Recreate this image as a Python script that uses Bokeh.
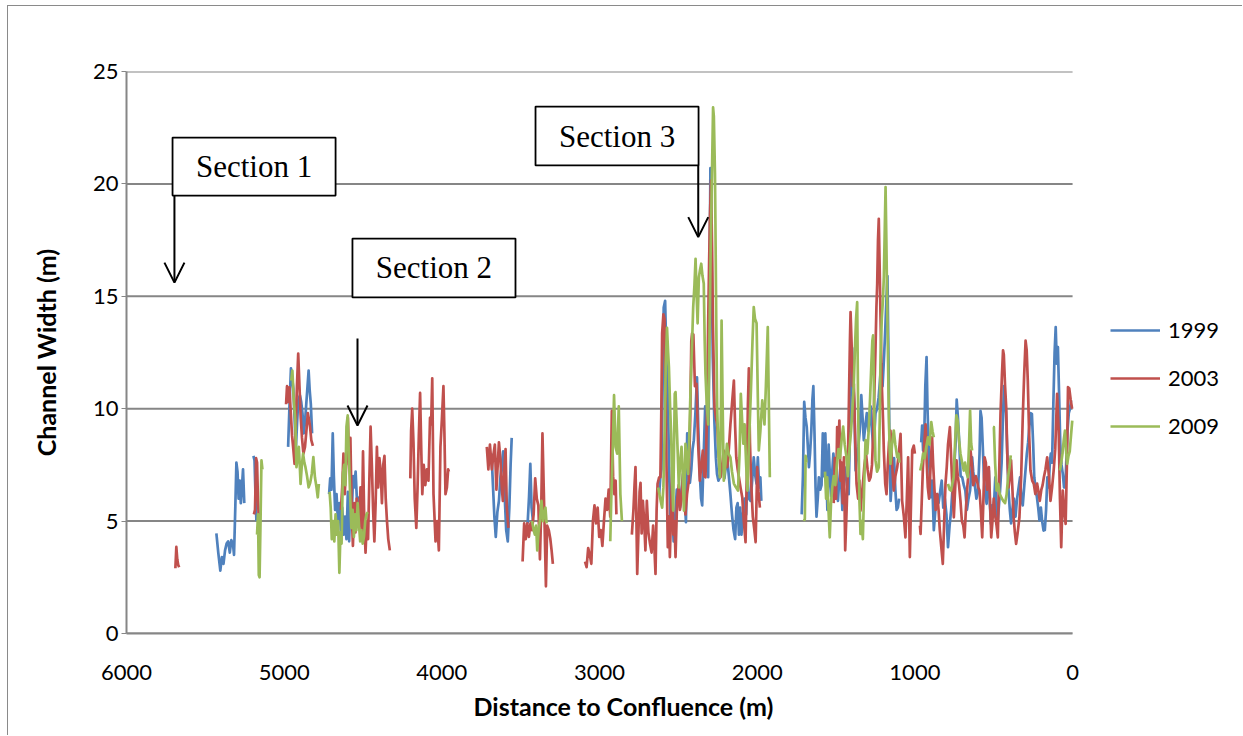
import math

from bokeh.embed import file_html
from bokeh.models import (Arrow, BoxAnnotation, FixedTicker, Label, Legend,
                          LegendItem, OpenHead, Range1d, Title)
from bokeh.plotting import figure
from bokeh.resources import INLINE

# Channel width (m) against distance to the confluence (m); each inner list
# is one surveyed run, gaps between runs are left unconnected.
runs_1999 = [
    [(5430, 4.45), (5418, 3.6), (5405, 2.8), (5395, 3.4), (5385, 3.1), (5375, 3.7), (5365, 4.0),
     (5355, 4.1), (5345, 3.6), (5335, 4.15), (5325, 4.0), (5318, 3.5), (5310, 5.6), (5303, 7.6),
     (5296, 7.2), (5289, 6.0), (5282, 6.8), (5275, 5.8), (5268, 6.5), (5261, 7.3), (5253, 5.8)],
    [(5195, 7.9), (5188, 7.7), (5182, 6.2), (5176, 5.0)],
    [(4975, 8.3), (4966, 10.2), (4957, 11.8), (4950, 11.4), (4942, 10.9), (4934, 9.6), (4926, 8.2),
     (4918, 9.4), (4910, 10.4), (4900, 10.6), (4892, 10.3), (4884, 9.8), (4876, 8.9), (4868, 9.4),
     (4860, 10.2), (4852, 11.0), (4845, 11.7), (4838, 10.8), (4831, 10.2), (4823, 8.9)],
    [(4715, 6.2), (4708, 6.9), (4700, 6.4), (4692, 8.9), (4685, 7.0), (4677, 5.5), (4668, 6.2),
     (4659, 5.0), (4650, 5.8), (4641, 4.6), (4632, 5.6), (4623, 4.4), (4614, 5.2), (4605, 4.2),
     (4596, 6.3), (4588, 4.1), (4580, 6.0), (4572, 5.2), (4563, 7.0), (4555, 6.5), (4547, 7.2),
     (4539, 6.0), (4531, 5.3), (4522, 6.1)],
    [(3685, 8.0), (3676, 6.6), (3667, 5.2), (3658, 4.3), (3648, 5.4), (3638, 5.9), (3628, 7.0),
     (3618, 7.6), (3611, 8.1), (3602, 6.2), (3592, 4.6), (3582, 4.1), (3572, 5.6), (3564, 7.5),
     (3557, 8.7)],
    [(3456, 4.9), (3447, 6.1), (3439, 7.55), (3431, 5.6), (3422, 5.0)],
    [(2622, 6.2), (2614, 7.0), (2607, 7.3), (2600, 11.0), (2593, 14.5), (2584, 14.8), (2575, 12.0),
     (2567, 10.8), (2558, 7.0), (2550, 4.9), (2540, 5.6), (2530, 4.1), (2520, 5.2), (2510, 6.4),
     (2500, 5.9), (2490, 5.6), (2480, 6.4), (2470, 7.1), (2460, 6.0), (2452, 4.95), (2444, 8.9),
     (2436, 7.5), (2427, 6.7), (2418, 7.3), (2410, 8.2), (2402, 8.6), (2392, 9.8), (2382, 11.4),
     (2373, 9.0), (2364, 7.1), (2356, 6.0), (2349, 5.7), (2340, 7.8), (2330, 10.1), (2320, 8.2),
     (2311, 6.95), (2303, 14.0), (2297, 20.7), (2290, 17.5), (2282, 12.3), (2272, 9.5), (2262, 7.8),
     (2255, 7.1), (2246, 6.8), (2237, 6.95), (2228, 7.4), (2218, 7.55), (2208, 6.9), (2198, 7.5),
     (2190, 7.8), (2180, 7.0), (2170, 6.2), (2160, 5.3), (2150, 4.6), (2140, 4.2), (2132, 5.6),
     (2124, 5.8), (2116, 4.4), (2108, 5.6), (2100, 4.4), (2090, 5.3), (2080, 6.0), (2070, 5.3),
     (2062, 6.95), (2052, 6.0), (2042, 5.9), (2032, 6.8), (2022, 7.84), (2012, 7.0), (2004, 6.66),
     (1996, 7.84), (1988, 6.5), (1980, 6.95), (1974, 5.9)],
    [(1718, 5.3), (1710, 7.0), (1702, 10.3), (1694, 9.6), (1686, 9.2), (1678, 8.2), (1672, 7.4),
     (1665, 8.0), (1657, 9.0), (1650, 10.4), (1644, 11.0), (1637, 9.0), (1630, 6.5), (1624, 5.2),
     (1616, 6.0), (1609, 6.95), (1600, 6.4), (1592, 6.6), (1584, 8.9), (1576, 7.0), (1568, 8.9),
     (1560, 6.8), (1555, 5.5), (1547, 8.4), (1539, 7.0), (1531, 6.1), (1524, 7.2), (1517, 8.0),
     (1510, 7.4), (1503, 7.1), (1496, 6.3), (1488, 5.9), (1480, 6.8), (1472, 7.4), (1465, 6.3),
     (1460, 5.5), (1453, 6.8), (1446, 7.4), (1438, 7.0), (1430, 6.6), (1420, 6.2), (1412, 9.0),
     (1405, 11.5), (1398, 12.7), (1390, 11.0), (1384, 10.2), (1376, 7.25), (1368, 7.8), (1359, 8.3),
     (1350, 9.0), (1340, 10.6), (1331, 9.5), (1324, 8.6), (1315, 9.2), (1305, 9.8), (1295, 9.0),
     (1287, 9.6), (1280, 10.1), (1272, 9.0), (1264, 8.3), (1256, 9.0), (1250, 9.8), (1240, 10.0),
     (1230, 10.5), (1222, 11.2), (1214, 12.0), (1205, 11.0), (1195, 12.4), (1188, 13.5), (1181, 14.8),
     (1174, 15.9), (1167, 12.0), (1160, 7.8), (1154, 5.9), (1146, 6.8), (1138, 7.5), (1132, 7.8),
     (1124, 6.4), (1116, 5.5), (1108, 5.6), (1100, 6.0)],
    [(960, 8.5), (954, 9.25), (948, 8.14), (940, 9.0), (934, 11.0), (926, 12.3), (920, 10.0),
     (912, 8.14), (906, 7.0), (900, 6.06), (890, 6.8), (880, 4.6), (870, 5.5), (860, 6.2), (850, 5.8),
     (840, 6.3), (830, 6.8), (820, 5.6), (810, 6.0), (800, 5.3), (790, 3.84), (780, 4.8), (770, 5.5),
     (760, 6.6), (750, 7.5), (742, 8.44), (735, 10.4), (727, 9.6), (718, 8.4), (710, 7.0), (700, 6.95),
     (690, 6.6), (680, 6.36), (670, 5.5), (660, 6.0), (650, 6.36), (642, 7.2), (637, 7.84), (630, 7.2),
     (620, 6.6), (610, 6.0), (600, 6.3), (590, 8.0), (584, 9.9), (577, 9.6), (570, 8.4), (562, 6.95),
     (554, 6.2), (545, 5.77), (538, 6.6), (531, 7.25), (524, 5.7), (518, 4.88), (510, 5.7), (500, 5.5),
     (490, 6.95), (482, 5.6), (475, 4.9), (468, 5.6), (460, 6.36), (450, 7.6), (442, 9.5), (435, 11.0),
     (428, 10.4), (422, 9.8), (414, 8.0), (406, 6.36), (398, 5.5), (390, 4.9), (382, 5.5), (372, 6.0),
     (362, 5.2), (352, 6.0), (342, 6.5), (333, 6.95), (325, 6.0), (316, 5.7), (306, 6.6), (298, 7.3),
     (290, 8.0), (282, 8.5), (274, 9.2), (266, 9.8), (258, 9.77), (250, 8.44), (243, 6.95), (235, 6.5),
     (226, 6.06), (218, 5.6), (210, 5.03), (201, 5.6), (193, 5.0), (184, 4.58), (176, 4.6), (168, 5.5),
     (160, 6.95), (152, 6.5), (144, 7.6), (138, 8.0), (130, 7.6), (122, 10.2), (114, 12.5), (107, 13.63),
     (100, 12.0), (93, 12.74), (86, 10.8), (78, 8.44), (70, 7.5), (62, 7.1), (54, 6.5), (46, 6.5),
     (38, 8.0), (32, 9.03), (24, 9.8), (16, 10.0), (10, 10.37)],
]

runs_2003 = [
    [(5690, 2.9), (5684, 3.85), (5678, 3.3), (5672, 3.05), (5666, 2.95)],
    [(5192, 5.3), (5185, 5.5), (5178, 7.8), (5172, 7.6), (5166, 5.9), (5160, 5.0)],
    [(4988, 10.2), (4982, 11.0), (4975, 10.3), (4967, 10.95), (4958, 9.8), (4950, 8.8), (4942, 8.2),
     (4934, 7.55), (4926, 9.5), (4918, 11.2), (4911, 12.45), (4903, 11.0), (4895, 9.6), (4887, 8.7),
     (4878, 8.0), (4868, 8.3), (4858, 9.1), (4850, 9.8), (4842, 9.5), (4836, 9.2), (4828, 8.6),
     (4818, 8.35)],
    [(4640, 5.5), (4632, 6.5), (4624, 8.0), (4616, 6.2), (4606, 7.6), (4596, 9.6), (4588, 7.5),
     (4580, 8.7), (4572, 5.5), (4564, 3.9), (4556, 5.8), (4548, 4.5), (4540, 6.0), (4532, 5.2),
     (4524, 4.8), (4516, 6.5), (4508, 4.2), (4500, 8.1), (4492, 5.0), (4484, 3.6), (4476, 5.0),
     (4468, 4.2), (4460, 6.8), (4452, 9.2), (4444, 7.5), (4436, 5.5), (4428, 4.1), (4420, 5.8),
     (4412, 8.3), (4404, 6.5), (4396, 7.8), (4388, 7.2), (4380, 5.8), (4372, 7.5), (4364, 7.9),
     (4356, 6.0), (4348, 5.0), (4340, 4.2), (4330, 3.7)],
    [(4200, 6.9), (4195, 9.0), (4188, 10.0), (4180, 8.5), (4172, 6.0), (4162, 4.7), (4154, 6.5),
     (4146, 8.8), (4138, 10.7), (4130, 8.0), (4124, 6.2), (4115, 7.5), (4105, 6.6), (4095, 7.3),
     (4085, 6.8), (4075, 9.6), (4068, 9.3), (4061, 11.35), (4053, 6.2), (4040, 4.1), (4030, 5.0),
     (4019, 3.7), (4009, 8.3), (4000, 9.5), (3990, 11.0), (3984, 9.0), (3977, 6.2), (3968, 6.5),
     (3960, 7.3), (3955, 7.2)],
    [(3715, 8.3), (3705, 7.3), (3695, 8.4), (3683, 7.3), (3672, 8.0), (3664, 8.4), (3654, 6.4),
     (3645, 7.6), (3638, 8.5), (3628, 7.7), (3620, 6.5), (3613, 5.9), (3604, 7.3), (3596, 8.2),
     (3588, 5.6), (3578, 4.7)],
    [(3488, 3.2), (3478, 4.9), (3468, 4.2), (3458, 4.9), (3448, 4.3), (3438, 4.9), (3428, 4.6),
     (3418, 5.3), (3408, 6.9), (3398, 6.0), (3388, 5.7), (3378, 3.3), (3370, 5.5), (3362, 8.9),
     (3354, 6.5), (3348, 4.7), (3340, 2.1), (3332, 4.8), (3322, 4.6), (3312, 4.2), (3304, 3.7),
     (3296, 3.1)],
    [(3092, 3.2), (3082, 2.95), (3072, 3.8), (3062, 3.5), (3052, 3.1), (3042, 5.0), (3032, 5.7),
     (3022, 4.9), (3012, 5.6), (3002, 4.3), (2992, 4.6), (2982, 3.9), (2972, 5.0), (2962, 6.0),
     (2952, 5.5), (2942, 6.4), (2932, 5.2), (2922, 9.9), (2914, 7.0), (2906, 6.2), (2898, 6.8),
     (2893, 5.3)],
    [(2795, 4.4), (2785, 5.5), (2778, 6.6), (2772, 7.4), (2766, 5.0), (2761, 2.65), (2752, 4.8),
     (2746, 6.3), (2740, 6.7), (2733, 4.45), (2725, 5.9), (2717, 5.0), (2709, 3.7), (2700, 5.9),
     (2690, 4.5), (2680, 4.0), (2670, 3.6), (2660, 4.8), (2652, 3.8), (2645, 2.65), (2638, 5.5),
     (2632, 6.66), (2622, 6.95), (2614, 6.95), (2608, 10.0), (2603, 13.35), (2595, 14.2), (2588, 14.0),
     (2580, 10.0), (2575, 7.4), (2567, 3.84), (2560, 5.2), (2554, 3.4), (2546, 5.5), (2539, 7.4),
     (2532, 4.4), (2525, 5.0), (2518, 3.4), (2508, 5.9), (2498, 6.6), (2490, 5.5), (2480, 6.0),
     (2470, 7.1), (2462, 5.8), (2455, 5.3), (2445, 6.2), (2434, 6.8), (2425, 9.5), (2418, 13.0),
     (2413, 13.35), (2405, 13.3), (2395, 11.0), (2385, 11.1), (2375, 8.5), (2364, 6.8), (2354, 7.5),
     (2345, 8.14), (2336, 7.0), (2328, 6.95), (2318, 10.0), (2311, 13.8), (2305, 16.5), (2300, 18.5),
     (2293, 20.15), (2286, 17.0), (2281, 13.8), (2271, 10.07), (2262, 9.6), (2254, 9.3), (2244, 8.0),
     (2233, 6.95), (2222, 7.5), (2212, 8.14), (2200, 7.8), (2190, 7.4), (2180, 8.2), (2170, 9.3),
     (2160, 10.2), (2148, 11.25), (2140, 9.2), (2133, 7.84), (2124, 7.3), (2116, 6.95), (2106, 6.5),
     (2095, 6.06), (2085, 5.0), (2074, 4.06), (2066, 7.0), (2059, 10.2), (2053, 11.8), (2046, 8.5),
     (2038, 6.66), (2028, 5.2), (2018, 4.6), (2010, 4.06), (2000, 7.4), (1992, 6.3), (1983, 5.6)],
    [(1515, 5.8), (1508, 7.8), (1500, 6.0), (1493, 9.18), (1486, 8.0), (1479, 9.47), (1472, 6.8),
     (1465, 7.6), (1458, 5.8), (1450, 7.84), (1442, 3.7), (1434, 5.3), (1426, 7.0), (1418, 10.5),
     (1412, 13.0), (1408, 14.3), (1400, 12.6), (1394, 11.0), (1387, 11.1), (1378, 8.5), (1370, 6.66),
     (1360, 6.0), (1352, 6.8), (1345, 5.47), (1336, 6.2), (1328, 6.8), (1320, 7.5), (1310, 8.0),
     (1300, 7.3), (1290, 6.8), (1281, 6.95), (1272, 7.5), (1264, 9.0), (1256, 11.0), (1250, 12.6),
     (1244, 14.5), (1239, 15.56), (1234, 17.5), (1229, 18.45), (1224, 16.5), (1218, 14.07), (1210, 11.1),
     (1202, 9.5), (1197, 8.14), (1188, 6.66), (1180, 6.2), (1172, 7.5), (1164, 8.5), (1155, 9.03),
     (1145, 7.6), (1134, 6.36), (1124, 7.0), (1112, 7.4), (1102, 8.0), (1091, 8.88), (1081, 5.9),
     (1070, 5.2), (1060, 4.28), (1052, 5.8), (1043, 7.84), (1037, 5.5), (1032, 3.4), (1024, 6.0),
     (1017, 8.14), (1007, 8.36), (1000, 8.0)],
    [(968, 4.8), (964, 4.43), (957, 5.8), (949, 7.4), (940, 8.5), (932, 9.3), (925, 7.6), (918, 6.5),
     (910, 6.0), (900, 7.5), (891, 8.73), (884, 7.5), (876, 6.4), (868, 5.5), (858, 6.2), (850, 5.5),
     (842, 4.6), (832, 3.8), (823, 3.1), (815, 4.8), (806, 6.66), (798, 7.4), (790, 8.4), (778, 9.18),
     (770, 7.8), (762, 6.5), (753, 5.17), (745, 6.4), (736, 7.7), (728, 7.0), (720, 6.6), (711, 5.9),
     (702, 5.0), (693, 4.8), (685, 4.28), (676, 5.6), (666, 6.66), (656, 7.4), (647, 8.14), (638, 7.5),
     (630, 6.6), (622, 6.8), (614, 7.0), (606, 6.8), (598, 6.5), (590, 6.36), (582, 5.5), (573, 4.28),
     (566, 5.8), (558, 7.84), (550, 7.6), (542, 6.4), (531, 7.4), (524, 6.0), (516, 4.28), (508, 5.0),
     (500, 6.0), (490, 5.2), (482, 4.8), (474, 4.28), (466, 7.0), (457, 9.77), (448, 11.5), (441, 12.6),
     (436, 12.4), (428, 11.0), (421, 10.07), (414, 8.0), (406, 6.5), (398, 7.0), (390, 7.7), (382, 6.5),
     (374, 5.2), (366, 4.5), (358, 3.99), (348, 4.5), (337, 5.17), (326, 7.0), (316, 9.6), (307, 11.5),
     (298, 13.03), (291, 12.6), (284, 11.25), (276, 9.0), (267, 7.25), (256, 6.8), (246, 6.66),
     (236, 6.2), (225, 6.67), (216, 6.3), (208, 5.9), (198, 6.4), (190, 6.6), (182, 6.95), (172, 7.3),
     (161, 7.84), (150, 7.0), (140, 5.9), (130, 6.5), (120, 7.25), (110, 8.2), (98, 10.66), (88, 9.0),
     (80, 6.0), (72, 3.84), (62, 6.36), (54, 5.5), (44, 4.88), (36, 7.5), (29, 10.96), (21, 10.9),
     (12, 10.4), (3, 10.0)],
]

runs_2009 = [
    [(5172, 4.4), (5166, 5.3), (5161, 2.6), (5156, 2.5), (5150, 5.0), (5144, 7.7), (5138, 7.3)],
    [(4955, 11.25), (4948, 11.7), (4940, 10.5), (4930, 9.5), (4922, 7.4), (4914, 7.9), (4907, 8.3),
     (4900, 7.3), (4896, 6.65), (4888, 7.5), (4880, 8.0), (4872, 7.6), (4865, 7.4), (4855, 7.0),
     (4845, 6.5), (4835, 6.7), (4825, 7.1), (4815, 7.85), (4805, 6.95), (4795, 6.5), (4787, 6.06),
     (4780, 6.65)],
    [(4712, 6.3), (4705, 5.6), (4698, 4.2), (4690, 5.0), (4682, 4.1), (4674, 5.3), (4666, 4.4),
     (4658, 5.0), (4650, 2.7), (4643, 4.5), (4636, 4.0), (4628, 7.1), (4620, 7.5), (4612, 6.6),
     (4605, 9.2), (4597, 9.7), (4590, 8.0), (4582, 6.2), (4574, 4.7), (4566, 5.5), (4558, 4.3),
     (4550, 5.3), (4542, 4.6), (4534, 5.8), (4526, 4.9), (4518, 4.1), (4510, 4.6), (4502, 4.0),
     (4494, 4.3), (4486, 5.0), (4478, 5.3), (4470, 5.4)],
    [(3428, 5.0), (3418, 4.6), (3410, 4.4), (3402, 4.8), (3395, 3.7), (3386, 4.6), (3378, 5.0),
     (3368, 5.9), (3358, 5.0), (3350, 5.3), (3343, 5.6), (3336, 4.9)],
    [(2932, 4.1), (2926, 5.9), (2918, 7.7), (2908, 10.6), (2898, 8.3), (2888, 8.0), (2878, 10.1),
     (2868, 6.2), (2858, 5.0)],
    [(2628, 6.5), (2620, 6.2), (2612, 5.9), (2603, 5.6), (2595, 6.5), (2587, 9.0), (2580, 12.0),
     (2572, 13.6), (2565, 12.5), (2560, 11.85), (2552, 10.0), (2546, 8.9), (2540, 7.0), (2533, 5.47),
     (2528, 8.0), (2523, 10.66), (2518, 10.74), (2512, 9.6), (2504, 8.0), (2497, 6.5), (2490, 7.5),
     (2480, 8.3), (2472, 7.0), (2465, 5.47), (2460, 7.0), (2455, 8.44), (2448, 7.84), (2438, 7.1),
     (2430, 9.0), (2423, 10.8), (2415, 12.5), (2406, 14.52), (2398, 15.5), (2391, 16.67), (2384, 15.0),
     (2378, 13.8), (2370, 15.85), (2362, 16.2), (2355, 16.45), (2347, 15.9), (2339, 15.57),
     (2333, 13.0), (2328, 11.55), (2320, 10.2), (2311, 9.3), (2304, 12.5), (2296, 16.74), (2288, 20.0),
     (2280, 23.4), (2275, 23.0), (2268, 20.5), (2265, 18.24), (2260, 14.0), (2254, 10.07), (2246, 8.0),
     (2237, 6.95), (2230, 10.0), (2226, 13.92), (2219, 10.0), (2212, 6.8), (2202, 7.5), (2192, 8.44),
     (2182, 8.0), (2170, 7.84), (2160, 7.2), (2148, 6.67), (2135, 6.5), (2122, 6.36), (2112, 8.0),
     (2104, 10.66), (2096, 9.5), (2088, 8.44), (2080, 9.3), (2070, 7.5), (2062, 6.36), (2052, 8.5),
     (2040, 10.8), (2030, 13.0), (2022, 14.52), (2014, 14.0), (2004, 13.8), (1996, 10.5), (1990, 8.14),
     (1980, 9.0), (1968, 10.37), (1960, 9.8), (1954, 9.3), (1945, 11.0), (1938, 12.5), (1933, 13.63),
     (1926, 10.0), (1920, 6.95)],
    [(1704, 5.0), (1698, 5.1), (1693, 7.9), (1688, 7.6)],
    [(1570, 7.2), (1563, 6.0), (1556, 6.95), (1548, 5.5), (1540, 4.28), (1532, 5.8), (1524, 6.5),
     (1515, 7.0), (1505, 6.6), (1495, 7.5), (1485, 8.2), (1475, 7.8), (1465, 8.6), (1455, 9.2),
     (1445, 8.4), (1435, 7.9), (1425, 7.0), (1415, 8.2), (1405, 9.0), (1396, 10.0), (1388, 11.0),
     (1380, 12.7), (1373, 14.0), (1366, 14.74), (1360, 10.0), (1352, 6.0), (1345, 4.43), (1338, 5.0),
     (1330, 4.2), (1322, 6.5), (1313, 8.6), (1302, 8.0), (1292, 9.18), (1284, 10.5), (1276, 12.0),
     (1270, 13.0), (1265, 13.26), (1258, 10.0), (1250, 7.7), (1240, 7.2), (1229, 7.4), (1223, 9.5),
     (1218, 12.3), (1210, 14.0), (1203, 14.8), (1197, 15.85), (1191, 18.0), (1186, 19.86), (1181, 17.5),
     (1176, 14.8), (1170, 12.0), (1165, 9.6), (1160, 8.2), (1155, 7.55), (1145, 8.4), (1134, 9.03),
     (1124, 8.4), (1112, 7.84), (1104, 8.0), (1098, 7.6)],
    [(966, 7.25), (956, 7.6), (948, 8.0), (938, 7.8), (928, 8.3), (917, 8.73), (907, 8.4), (896, 9.4),
     (888, 9.0), (880, 8.73)],
    [(790, 6.66), (780, 6.4), (771, 6.36), (762, 6.7), (754, 6.95), (745, 8.5), (737, 9.7), (729, 9.47),
     (720, 8.6), (711, 8.0), (700, 7.6), (690, 7.25), (682, 7.6), (674, 7.2), (665, 6.95), (656, 8.5),
     (650, 9.92), (643, 8.44), (637, 8.14)],
    [(505, 9.18), (499, 9.18), (491, 7.55), (482, 6.36), (472, 6.66), (462, 6.2), (452, 6.06),
     (440, 5.9), (428, 5.8), (418, 6.2), (409, 6.95), (400, 7.4), (392, 7.92)],
    [(80, 7.25), (72, 7.6), (64, 8.0), (56, 8.6), (48, 9.03), (40, 8.0), (34, 7.55), (26, 7.9),
     (18, 8.1), (10, 8.8), (2, 9.47)],
]

years = ["1999", "2003", "2009"]
series_colors = ["#4F81BD", "#C0504D", "#9BBB59"]
x_ticks = [0, 1000, 2000, 3000, 4000, 5000, 6000]
y_ticks = [0, 5, 10, 15, 20, 25]
x_start, x_end = 6000, 0

# Section call-outs: text, box (left, right, bottom, top) and arrow (x, y_from, y_to)
sections = [
    ("Section 1", (5708, 4674, 19.48, 22.06), (5696, 19.48, 15.61)),
    ("Section 2", (4567, 3533, 14.95, 17.57), (4535, 13.12, 9.25)),
    ("Section 3", (3406, 2372, 20.82, 23.44), (2374, 20.82, 17.63)),
]


def flatten(runs):
    xs, ys = [], []
    for i, run in enumerate(runs):
        if i:
            xs.append(math.nan)
            ys.append(math.nan)
        for d, w in run:
            xs.append(d)
            ys.append(w)
    return xs, ys


GRID = "#868686"
TICK_FONT = "Lato"

# The frame runs past the 0 m edge so that the legend can sit to the right of the
# data area; gridlines and the axis rule stop at 0 m.
p = figure(width=1235, height=730, x_range=Range1d(x_start, -1065), y_range=Range1d(0, 25),
           output_backend="svg", toolbar_location=None,
           min_border_left=118, min_border_right=3, min_border_top=65, min_border_bottom=103,
           styles={"margin-left": "7px", "margin-top": "5px",
                   "border-left": "1px solid #8a8a8a", "border-top": "1px solid #8a8a8a"})
p.outline_line_color = None
p.background_fill_color = "white"
p.border_fill_color = "white"
p.xgrid.visible = False
p.ygrid.visible = False

p.segment(x0=[x_start] * len(y_ticks), x1=[x_end] * len(y_ticks), y0=y_ticks, y1=y_ticks,
          line_color=GRID, line_width=2)

p.xaxis.ticker = FixedTicker(ticks=x_ticks)
p.yaxis.ticker = FixedTicker(ticks=y_ticks)
p.xaxis.bounds = (x_end, x_start)
for ax in (p.xaxis, p.yaxis):
    ax.axis_line_color = GRID
    ax.axis_line_width = 2
    ax.major_label_text_font = TICK_FONT
    ax.major_label_text_font_size = "22px"
    ax.major_label_text_color = "black"
    ax.minor_tick_line_color = None
    ax.minor_tick_out = 0
    ax.axis_label_text_font = TICK_FONT
    ax.axis_label_text_font_style = "bold"
    ax.axis_label_text_font_size = "25px"
    ax.axis_label_text_color = "black"

p.xaxis.major_tick_line_color = None
p.xaxis.major_tick_out = 0
p.xaxis.major_tick_in = 0
p.xaxis.major_label_standoff = 31

# x-axis title, centred under the 6000-0 m span rather than the whole frame
p.add_layout(Title(text="Distance to Confluence (m)", align="left", offset=347, standoff=12,
                   text_font=TICK_FONT, text_font_style="bold", text_font_size="25px",
                   text_color="black"), "below")

p.yaxis.major_tick_line_color = GRID
p.yaxis.major_tick_out = 5
p.yaxis.major_tick_in = 0
p.yaxis.major_label_standoff = 3
p.yaxis.axis_label = "Channel Width (m)"
p.yaxis.axis_label_standoff = 29

renderers = []
for year, runs, color in zip(years, [runs_1999, runs_2003, runs_2009], series_colors):
    xs, ys = flatten(runs)
    r = p.line(xs, ys, line_color=color, line_width=2.7, line_join="round")
    renderers.append(r)

legend = Legend(items=[LegendItem(label=y, renderers=[r]) for y, r in zip(years, renderers)],
                location=(984, 194), orientation="vertical",
                border_line_color=None, background_fill_alpha=0,
                glyph_width=50, glyph_height=20, label_height=20, spacing=21,
                padding=0, margin=0, label_standoff=8,
                label_text_font=TICK_FONT, label_text_font_size="22px", label_text_color="black")
p.add_layout(legend)

for text, (bl, br, bb, bt), (ax_x, ay0, ay1) in sections:
    p.add_layout(BoxAnnotation(left=bl, right=br, bottom=bb, top=bt,
                               fill_color="white", fill_alpha=1.0,
                               line_color="black", line_alpha=1.0, line_width=1.8))
    p.add_layout(Label(x=(bl + br) / 2, y=(bb + bt) / 2, text=text,
                       text_font="Liberation Serif", text_font_size="31px",
                       text_align="center", text_baseline="middle", text_color="black"))
    p.add_layout(Arrow(x_start=ax_x, y_start=ay0, x_end=ax_x, y_end=ay1,
                       line_color="black", line_width=2,
                       end=OpenHead(size=20, line_color="black", line_width=2)))

open("out.html", "w").write(file_html(p, INLINE))
